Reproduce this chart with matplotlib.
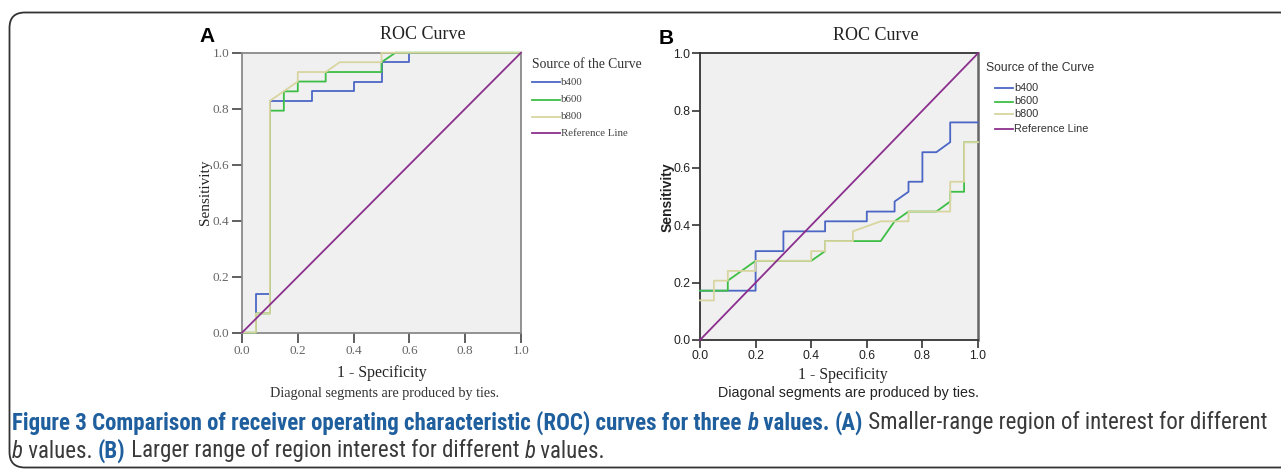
import matplotlib
matplotlib.use('Agg')
import matplotlib.pyplot as plt
from matplotlib import font_manager
from matplotlib.patches import FancyBboxPatch
from matplotlib.lines import Line2D

# ---------------- data ----------------
ticks = [0.0, 0.2, 0.4, 0.6, 0.8, 1.0]
tick_labels = ["0.0", "0.2", "0.4", "0.6", "0.8", "1.0"]
series_names = ["b400", "b600", "b800", "Reference Line"]

# Panel A
a_b400_x = [0, 0.05, 0.05, 0.10, 0.10, 0.25, 0.25, 0.40, 0.40, 0.50, 0.50, 0.60, 0.60, 1.0]
a_b400_y = [0, 0, 0.138, 0.138, 0.828, 0.828, 0.862, 0.862, 0.897, 0.897, 0.966, 0.966, 1.0, 1.0]
a_b600_x = [0, 0.05, 0.05, 0.10, 0.10, 0.15, 0.15, 0.20, 0.20, 0.30, 0.30, 0.50, 0.50, 0.55, 1.0]
a_b600_y = [0, 0, 0.069, 0.069, 0.793, 0.793, 0.862, 0.862, 0.897, 0.897, 0.931, 0.931, 0.966, 1.0, 1.0]
a_b800_x = [0, 0.05, 0.05, 0.10, 0.10, 0.20, 0.20, 0.30, 0.35, 0.50, 0.50, 1.0]
a_b800_y = [0, 0, 0.069, 0.069, 0.828, 0.897, 0.931, 0.931, 0.966, 0.966, 1.0, 1.0]

# Panel B
b_b400_x = [0, 0.20, 0.20, 0.30, 0.30, 0.45, 0.45, 0.60, 0.60, 0.70, 0.70, 0.75, 0.75, 0.80, 0.80, 0.85, 0.90, 0.90, 1.0]
b_b400_y = [0.172, 0.172, 0.310, 0.310, 0.379, 0.379, 0.414, 0.414, 0.448, 0.448, 0.483, 0.517, 0.552, 0.552, 0.655, 0.655, 0.690, 0.759, 0.759]
b_b600_x = [0, 0.10, 0.10, 0.20, 0.40, 0.45, 0.45, 0.65, 0.70, 0.75, 0.85, 0.90, 0.90, 0.95, 0.95, 1.0]
b_b600_y = [0.172, 0.172, 0.207, 0.276, 0.276, 0.310, 0.345, 0.345, 0.414, 0.448, 0.448, 0.483, 0.517, 0.517, 0.690, 0.690]
b_b800_x = [0, 0.05, 0.05, 0.10, 0.10, 0.20, 0.20, 0.40, 0.40, 0.45, 0.45, 0.55, 0.55, 0.65, 0.75, 0.75, 0.90, 0.90, 0.95, 0.95, 1.0]
b_b800_y = [0.138, 0.138, 0.207, 0.207, 0.241, 0.241, 0.276, 0.276, 0.310, 0.310, 0.345, 0.345, 0.379, 0.414, 0.414, 0.448, 0.448, 0.552, 0.552, 0.690, 0.690]

ref_x = [0, 1]
ref_y = [0, 1]

# ---------------- style ----------------
C_BLUE = '#4b66c4'
C_GREEN = '#3dbe45'
C_YEL = '#d9d5a0'
C_PURP = '#8b2f8e'
colors = [C_BLUE, C_GREEN, C_YEL, C_PURP]
SERIF = ['Liberation Serif', 'DejaVu Serif']
SANS = ['Liberation Sans', 'DejaVu Sans']

W, H = 1281, 470
fig = plt.figure(figsize=(W / 100, H / 100), dpi=100)


def fx(x):
    return x / W


def fy(y):
    return 1 - y / H


# frame around figure
frame = FancyBboxPatch((fx(9.5), fy(467.5)), fx(1400), (467.5 - 12.5) / H,
                       boxstyle='round,pad=0,rounding_size=0.012',
                       transform=fig.transFigure, fill=False,
                       edgecolor='#333333', linewidth=1.3, mutation_aspect=W / H)
fig.patches.append(frame)


def make_axes(rect_px, spine_color, tick_color, label_color, tick_font, tick_size, tick_len, pad):
    l, t, r, b = rect_px
    ax = fig.add_axes([fx(l), fy(b), (r - l) / W, (b - t) / H])
    ax.set_facecolor('#f0f0f0')
    ax.set_xlim(0, 1)
    ax.set_ylim(0, 1)
    ax.set_xticks(ticks)
    ax.set_yticks(ticks)
    ax.set_xticklabels(tick_labels, family=tick_font, fontsize=tick_size, color=label_color)
    ax.set_yticklabels(tick_labels, family=tick_font, fontsize=tick_size, color=label_color)
    ax.tick_params(direction='out', length=tick_len, width=1.2, color=tick_color, pad=pad)
    for s in ax.spines.values():
        s.set_color(spine_color)
        s.set_linewidth(1.3)
    return ax


# ---------------- Panel A ----------------
axA = make_axes((242, 52.7, 521, 332.7), '#8a8a8a', '#444444', '#666666', SERIF, 9.5, 7, 2)
for xs, ys, c in [(a_b400_x, a_b400_y, C_BLUE), (a_b600_x, a_b600_y, C_GREEN),
                  (a_b800_x, a_b800_y, C_YEL), (ref_x, ref_y, C_PURP)]:
    axA.plot(xs, ys, color=c, lw=1.3, clip_on=False, zorder=3)

fig.text(fx(207), fy(37), 'A', family=SANS, fontweight='bold', fontsize=15, ha='center', va='center')
fig.text(fx(422.5), fy(34.5), 'ROC Curve', family=SERIF, fontsize=13, ha='center', va='center', color='#222')
fig.text(fx(205), fy(192), 'Sensitivity', family=SERIF, fontsize=11, rotation=90,
         ha='center', va='center', color='#222')
fig.text(fx(382), fy(373), '1 - Specificity', family=SERIF, fontsize=11.3, ha='center', va='center', color='#222')
fig.text(fx(384), fy(393), 'Diagonal segments are produced by ties.', family=SERIF, fontsize=10.2,
         ha='center', va='center', color='#333')
fig.text(fx(531.5), fy(65), 'Source of the Curve', family=SERIF, fontsize=9.8, ha='left', va='center', color='#333')
for i, (name, c) in enumerate(zip(series_names, colors)):
    y = [82.3, 99.5, 116.5, 133.3][i]
    fig.add_artist(Line2D([fx(531.7), fx(560)], [fy(y), fy(y)], color=c, lw=1.3, transform=fig.transFigure))
    fig.text(fx(561), fy(y), name, family=SERIF, fontsize=7.8, ha='left', va='center', color='#444')

# ---------------- Panel B ----------------
axB = make_axes((700, 53.3, 978, 340), '#333333', '#333333', '#222222', SANS, 8.8, 5.5, 1.5)
axB.spines['right'].set_color('#666666')
axB.spines['right'].set_linewidth(1.8)
for xs, ys, c in [(b_b400_x, b_b400_y, C_BLUE), (b_b600_x, b_b600_y, C_GREEN),
                  (b_b800_x, b_b800_y, C_YEL), (ref_x, ref_y, C_PURP)]:
    axB.plot(xs, ys, color=c, lw=1.3, clip_on=False, zorder=3)

fig.text(fx(666), fy(39), 'B', family=SANS, fontweight='bold', fontsize=15, ha='center', va='center')
fig.text(fx(875.5), fy(35), 'ROC Curve', family=SERIF, fontsize=13, ha='center', va='center', color='#222')
fig.text(fx(668), fy(197), 'Sensitivity', family=SANS, fontweight='bold', fontsize=10, rotation=90,
         ha='center', va='center', color='#222')
fig.text(fx(842.5), fy(375), '1 - Specificity', family=SERIF, fontsize=11.3, ha='center', va='center', color='#222')
fig.text(fx(849), fy(392.5), 'Diagonal segments are produced by ties.', family=SANS, fontsize=10.3,
         ha='center', va='center', color='#222')
fig.text(fx(986), fy(68), 'Source of the Curve', family=SANS, fontsize=8.7, ha='left', va='center', color='#333')
for i, (name, c) in enumerate(zip(series_names, colors)):
    y = [88.3, 101.5, 114.3, 129][i]
    fig.add_artist(Line2D([fx(995), fx(1013)], [fy(y), fy(y)], color=c, lw=1.3, transform=fig.transFigure))
    fig.text(fx(1014.5), fy(y), name, family=SANS, fontsize=7.8, ha='left', va='center', color='#333')

# ---------------- Caption ----------------
avail = {f.name for f in font_manager.fontManager.ttflist}
cap_font = None
for cand in ['Liberation Sans Narrow', 'Roboto Condensed', 'Open Sans Condensed', 'Liberation Sans']:
    if cand in avail:
        cap_font = cand
        break
CAP = [cap_font, 'DejaVu Sans'] if cap_font else ['DejaVu Sans']
BLUE_T = '#1f5f9e'
DARK_T = '#3a3a3a'

line1 = [("Figure 3 Comparison of receiver operating characteristic (ROC) curves for three ", 'bold', 'normal', BLUE_T),
         ("b", 'bold', 'italic', BLUE_T),
         (" values. ", 'bold', 'normal', BLUE_T),
         ("(A)", 'bold', 'normal', BLUE_T),
         (" Smaller-range region of interest for different", 'normal', 'normal', DARK_T)]
line2 = [("b", 'normal', 'italic', DARK_T),
         (" values. ", 'normal', 'normal', DARK_T),
         ("(B)", 'bold', 'normal', BLUE_T),
         (" Larger range of region interest for different ", 'normal', 'normal', DARK_T),
         ("b", 'normal', 'italic', DARK_T),
         (" values.", 'normal', 'normal', DARK_T)]

renderer = fig.canvas.get_renderer()


def draw_line(parts, x0, y, size, measure_only=False):
    x = x0
    arts = []
    for txt, wt, st, col in parts:
        t = fig.text(fx(x), fy(y), txt, family=CAP, fontweight=wt, fontstyle=st, fontsize=size,
                     color=col, ha='left', va='center')
        bb = t.get_window_extent(renderer=renderer)
        x += bb.width
        arts.append(t)
    if measure_only:
        for a in arts:
            a.remove()
    return x - x0


base = 12.0
w = draw_line(line1, 12, 423, base, measure_only=True)
size = base * (1268 - 12) / w
draw_line(line1, 12, 423, size)
draw_line(line2, 12, 451, size)

fig.savefig('out.png', dpi=100)
